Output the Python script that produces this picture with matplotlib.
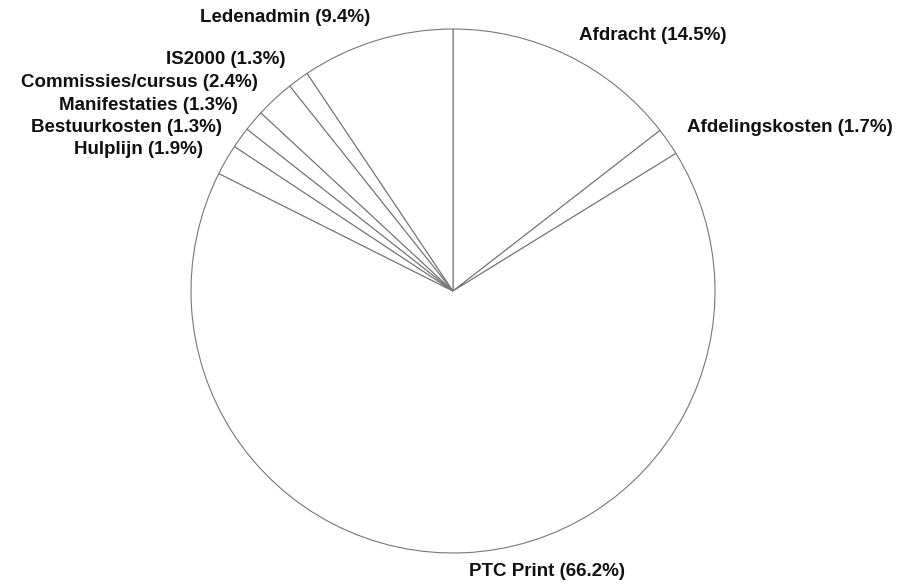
import matplotlib.pyplot as plt

# uitgaven per post (%), met de klok mee vanaf boven
posten = ['Afdracht', 'Afdelingskosten', 'PTC Print', 'Hulplijn', 'Bestuurkosten',
          'Manifestaties', 'Commissies/cursus', 'IS2000', 'Ledenadmin']
percentages = [14.5, 1.7, 66.2, 1.9, 1.3, 1.3, 2.4, 1.3, 9.4]

# plaats van de labels in pixels (x, y vanaf boven) en uitlijning
label_pos = [(579, 35, 'left'), (687, 128, 'left'), (469, 572, 'left'),
             (203, 150, 'right'), (222, 128, 'right'), (238, 106, 'right'),
             (258, 83, 'right'), (285, 60, 'right'), (370, 18, 'right')]

W, H = 903, 585
fig = plt.figure(figsize=(W / 100, H / 100), dpi=100)
fig.patch.set_facecolor('white')

cx, cy, r = 453, 291, 262
ax = fig.add_axes([(cx - r) / W, (H - cy - r) / H, 2 * r / W, 2 * r / H])
ax.pie(percentages, startangle=90, counterclock=False,
       colors=['white'] * len(percentages),
       wedgeprops=dict(edgecolor='#777777', linewidth=0.8))
ax.set_xlim(-1, 1)
ax.set_ylim(-1, 1)

for naam, p, (x, y, ha) in zip(posten, percentages, label_pos):
    fig.text(x / W, 1 - y / H, f'{naam} ({p}%)', ha=ha, va='center',
             fontsize=13.5, fontweight='bold', family='Liberation Sans', color='#111111')

fig.savefig('out.png', dpi=100)
